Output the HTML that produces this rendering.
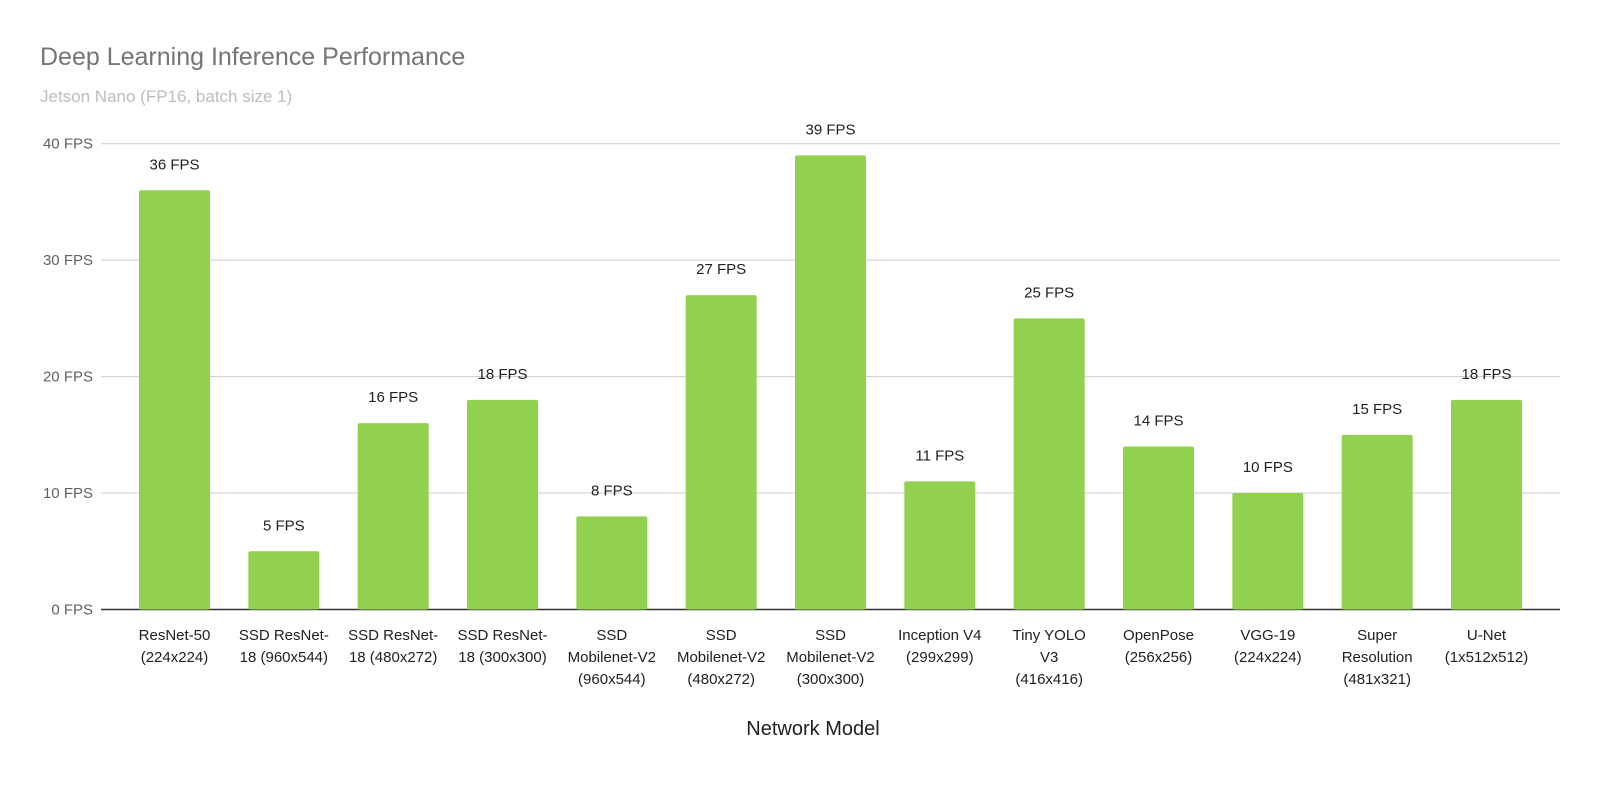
<!DOCTYPE html>
<html><head><meta charset="utf-8"><style>
body{margin:0;background:#fff;font-family:"Liberation Sans",Arial,sans-serif}
svg text{font-family:"Liberation Sans",Arial,sans-serif}
</style></head><body>
<svg id="chart" width="1600" height="797" viewBox="0 0 1600 797">
<text x="40" y="65" font-size="25" fill="#757575">Deep Learning Inference Performance</text>
<text x="40" y="102" font-size="17" fill="#bdbdbd">Jetson Nano (FP16, batch size 1)</text>
<g id="grid"></g><g id="bars"></g><g id="labels"></g>
<text x="813" y="735" font-size="20" fill="#212121" text-anchor="middle">Network Model</text>
</svg>
<script>
const categories=[["ResNet-50","(224x224)"],["SSD ResNet-","18 (960x544)"],["SSD ResNet-","18 (480x272)"],["SSD ResNet-","18 (300x300)"],["SSD","Mobilenet-V2","(960x544)"],["SSD","Mobilenet-V2","(480x272)"],["SSD","Mobilenet-V2","(300x300)"],["Inception V4","(299x299)"],["Tiny YOLO","V3","(416x416)"],["OpenPose","(256x256)"],["VGG-19","(224x224)"],["Super","Resolution","(481x321)"],["U-Net","(1x512x512)"]];
const fpsValues=[36,5,16,18,8,27,39,11,25,14,10,15,18];
const yTicks=[0,10,20,30,40];
const NS="http://www.w3.org/2000/svg";
const X0=101,X1=1560,Y0=609.5,Y40=143.7,yMax=40;
const y=v=>Y0-(v/yMax)*(Y0-Y40);
const step=(X1-X0-147)/(categories.length-1);
const xc=i=>X0+73.5+i*step;
const bw=71;
function mk(tag,attrs,parent){const e=document.createElementNS(NS,tag);for(const k in attrs)e.setAttribute(k,attrs[k]);parent.appendChild(e);return e;}
const grid=document.getElementById('grid'),bars=document.getElementById('bars'),labels=document.getElementById('labels');
yTicks.forEach(t=>{
  const l=mk('line',{x1:X0,x2:X1,y1:y(t),y2:y(t),stroke:t===0?'#333':'#cccccc','stroke-width':t===0?1.5:1},grid);
  
  
  const tx=mk('text',{x:93,y:y(t)+5,'font-size':15,fill:'#616161','text-anchor':'end'},grid);
  tx.textContent=t+' FPS';
  
  
});
grid.parentNode.insertBefore(bars,labels);
fpsValues.forEach((v,i)=>{
  const r=mk('rect',{x:xc(i)-bw/2,y:y(v),width:bw,height:Y0-y(v),fill:'#92d050',rx:2},bars);
  
  
  const vt=mk('text',{x:xc(i),y:y(v)-21,'font-size':15,fill:'#212121','text-anchor':'middle'},labels);
  vt.textContent=v+' FPS';
  
  
  categories[i].forEach((line,j)=>{
    const ct=mk('text',{x:xc(i),y:640+j*22,'font-size':15,fill:'#212121','text-anchor':'middle'},labels);
    ct.textContent=line;
    
    
  });
});
</script>
</body></html>
